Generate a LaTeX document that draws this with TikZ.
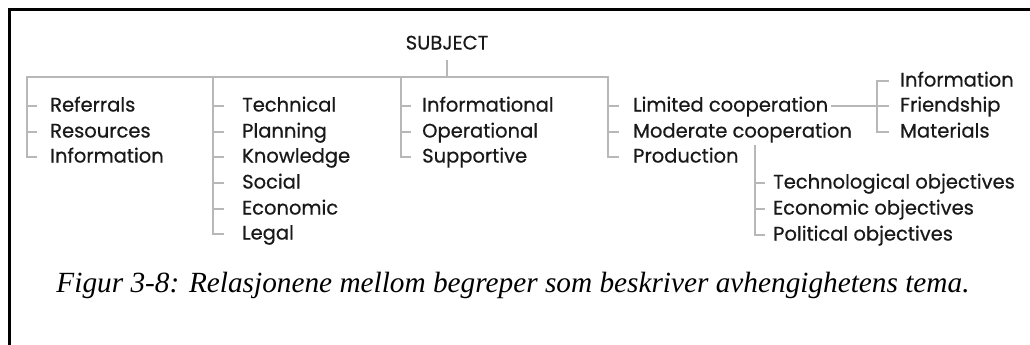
\documentclass[tikz,border=0pt]{standalone}
\usepackage{fontspec}
\usepackage{graphicx}
\newfontfamily\labelfont{Poppins}[FakeBold=0.6]
\newfontfamily\captionfont{Liberation Serif}
\usetikzlibrary{calc}
\definecolor{linkgrey}{RGB}{184,184,184}

% label size chosen so that the widest label of the middle group has a set width
\newlength\labw
\settowidth\labw{\labelfont\fontsize{10}{12}\selectfont Limited cooperation}
\pgfmathsetmacro\labsize{1950/\labw}

\begin{document}
\begin{tikzpicture}[x=1pt,y=-1pt,
  link/.style={draw=linkgrey,line width=2.6pt,line join=miter},
  item/.style={anchor=west,inner sep=0pt,text height=11pt,text depth=0pt,
    text=black!90,font=\labelfont\fontsize{\labsize}{\labsize}\selectfont},
  frameline/.style={draw=black,line width=3pt}]
\useasboundingbox (0,0) rectangle (1030,345);

% frame edges
\draw[frameline] (9,345) -- (9,10) -- (1030,10);

% root
\node[item,anchor=center] (subj) at (447,44) {SUBJECT};

% branch points on the main bar
\coordinate (c1) at (27,77);
\coordinate (c2) at (213,77);
\coordinate (c3) at (401,77);
\coordinate (c4) at (608,77);

% first group
\node[item] (ref)  at (50,106) {Referrals};
\node[item] (res)  at (50,132) {Resources};
\node[item] (inf1) at (50,157) {Information};

% second group
\node[item] (tec)  at (242,106) {Technical};
\node[item] (pla)  at (242,132) {Planning};
\node[item] (kno)  at (242,157) {Knowledge};
\node[item] (soc)  at (242,183) {Social};
\node[item] (eco)  at (242,209) {Economic};
\node[item] (leg)  at (242,234) {Legal};

% third group
\node[item] (infl) at (422,106) {Informational};
\node[item] (ope)  at (422,132) {Operational};
\node[item] (sup)  at (422,157) {Supportive};

% fourth group
\node[item] (lim)  at (633,106) {Limited cooperation};
\node[item] (mod)  at (633,132) {Moderate cooperation};
\node[item] (pro)  at (633,157) {Production};

% sub-branch of limited cooperation
\coordinate (c5) at (877,81);
\node[item] (inf2) at (900,81)  {Information};
\node[item] (fri)  at (900,106) {Friendship};
\node[item] (mat)  at (900,132) {Materials};

% sub-branch under production
\coordinate (c6) at (755,145);
\node[item] (tob)  at (773,183) {Technological objectives};
\node[item] (eob)  at (773,209) {Economic objectives};
\node[item] (pob)  at (773,235) {Political objectives};

% root stem
\draw[link] ([yshift=-10pt]subj.south) -- (subj.south |- c1);

% main bar with the outer columns
\draw[link] ($(inf1.west -| c1)+(10,0)$) -| (c1) -- (c4) |- ($(pro.west -| c4)+(11,0)$);
\draw[link] (c2) |- ($(leg.west -| c2)+(11,0)$);
\draw[link] (c3) |- ($(sup.west -| c3)+(10,0)$);

% ticks
\foreach \n in {ref,res} \draw[link] (\n.west -| c1) -- ++(10,0);
\foreach \n in {tec,pla,kno,soc,eco} \draw[link] (\n.west -| c2) -- ++(11,0);
\foreach \n in {infl,ope} \draw[link] (\n.west -| c3) -- ++(10,0);
\foreach \n in {lim,mod} \draw[link] (\n.west -| c4) -- ++(11,0);

% limited cooperation -> its sub-branch
\draw[link] ([xshift=3pt]lim.east) -- (lim.east -| c5);
\draw[link] ($(inf2.west -| c5)+(12,0)$) -| (mat.west -| c5) -- ++(12,0);
\draw[link] (fri.west -| c5) -- ++(12,0);

% production sub-branch
\draw[link] (c6) |- ($(pob.west -| c6)+(10,0)$);
\foreach \n in {tob,eob} \draw[link] (\n.west -| c6) -- ++(10,0);

% caption
\node[anchor=base,inner sep=0pt] (cap) at (513,292)
  {\resizebox{913pt}{!}{\captionfont\itshape Figur 3-8: Relasjonene mellom begreper som beskriver avhengighetens tema.}};
\end{tikzpicture}
\end{document}
